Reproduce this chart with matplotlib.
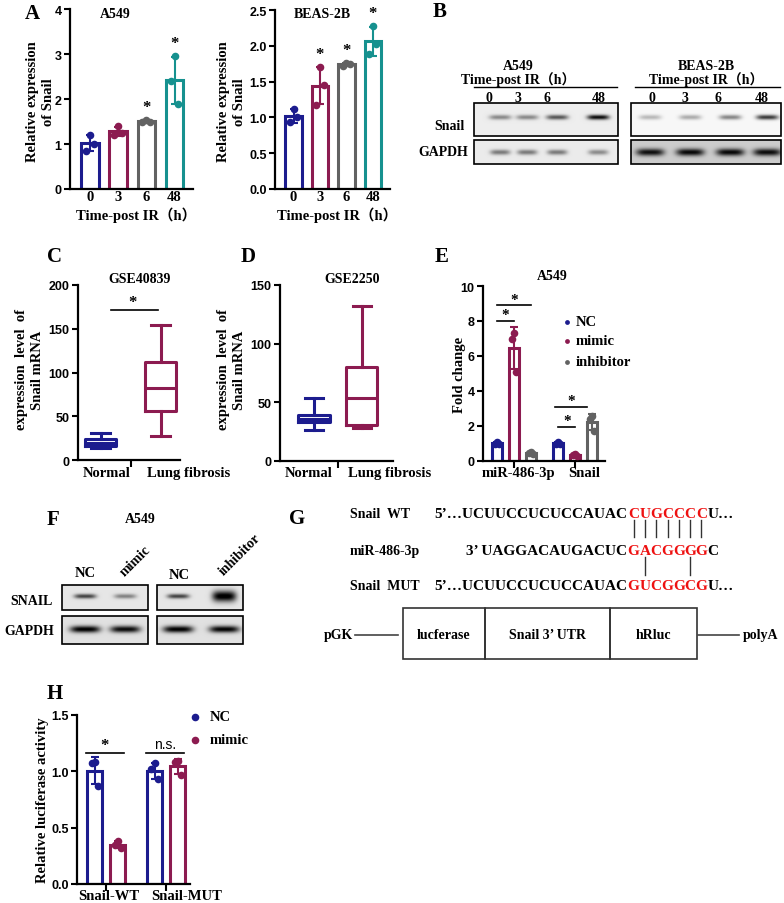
import numpy as np
import matplotlib
matplotlib.use('Agg')
import matplotlib.pyplot as plt
from matplotlib.patches import Rectangle

plt.rcParams['font.family'] = ['Liberation Serif', 'Noto Sans CJK SC']
plt.rcParams['font.weight'] = 'bold'

W, H = 784, 904
NAVY, MAROON, GREY, TEAL = '#1c1c8e', '#8c1b50', '#626262', '#16918f'
SANS = 'Liberation Sans'

# ---- A: Snail after IR
time_labels = ['0', '3', '6', '48']
a549_pts = [[1.20, 0.85, 1.00], [1.40, 1.20, 1.25], [1.53, 1.50, 1.48], [2.95, 2.40, 1.90]]
beas_pts = [[1.12, 0.93, 1.00], [1.70, 1.18, 1.45], [1.76, 1.72, 1.74], [2.28, 1.88, 2.03]]
a549_sig = [0, 0, 1, 1]
beas_sig = [0, 1, 1, 1]

# ---- B: blot band intensities (0 = none, 1 = black)
b_a549_snail = [0.40, 0.40, 0.60, 0.90]
b_a549_gapdh = [0.45, 0.45, 0.45, 0.38]
b_beas_snail = [0.25, 0.30, 0.45, 0.75]
b_beas_gapdh = [0.75, 0.78, 0.78, 0.76]

# ---- C / D: box stats (whislo, q1, med, q3, whishi)
box_groups = ['Normal', 'Lung fibrosis']
gse40839 = [(14, 16, 19.5, 24, 31), (27, 56, 82, 112, 154)]
gse2250 = [(26, 33, 36, 39, 54), (28, 31, 54, 80, 132)]

# ---- E: fold change
e_groups = ['miR-486-3p', 'Snail']
e_series = ['NC', 'mimic', 'inhibitor']
e_nc = [[1.08, 1.00, 0.95], [1.08, 1.00, 0.95]]
e_mimic = [[7.30, 7.00, 5.10], [0.42, 0.35, 0.30]]
e_inhib = [[0.52, 0.45, 0.38], [2.55, 2.40, 1.70]]

# ---- F: blots
f_snail = [[0.65, 0.40], [0.65, 0.95]]
f_gapdh = [[0.90, 0.85], [0.90, 0.88]]

# ---- G: sequences
seq_rows = [('Snail  WT', '5\u2019\u2026UCUUCCUCUCCAUAC', 'CUGCCCC', 'U\u2026'),
            ('miR-486-3p', '3\u2019 UAGGACAUGACUC', 'GACGGGG', 'C'),
            ('Snail  MUT', '5\u2019\u2026UCUUCCUCUCCAUAC', 'GUCGGCG', 'U\u2026')]
pair_wt = [1, 1, 1, 1, 1, 1, 1]
pair_mut = [0, 1, 0, 0, 0, 1, 0]
construct = ['lucferase', 'Snail 3\u2019 UTR', 'hRluc']

# ---- H: luciferase
h_groups = ['Snail-WT', 'Snail-MUT']
h_nc = [[1.08, 1.07, 0.87], [1.07, 1.02, 0.93]]
h_mimic = [[0.38, 0.35, 0.32], [1.09, 1.08, 0.97]]

fig = plt.figure(figsize=(W / 100, H / 100), dpi=100)
ov = fig.add_axes([0, 0, 1, 1])
ov.axis('off')


def T(x, y, s, size=10, **kw):
    kw.setdefault('ha', 'center')
    kw.setdefault('va', 'center')
    ov.text(x, y, s, fontsize=size, **kw)


def px_axes(l, t, r, b):
    ax = fig.add_axes([l / W, 1 - b / H, (r - l) / W, (b - t) / H])
    ax.patch.set_alpha(0)
    for s in ('top', 'right'):
        ax.spines[s].set_visible(False)
    for s in ('left', 'bottom'):
        ax.spines[s].set_linewidth(1.6)
    ax.tick_params(width=1.5, length=4, labelsize=9, pad=2)
    return ax


def yticks(ax, ticks, fmt):
    ax.set_ylim(ticks[0], ticks[-1])
    ax.set_yticks(ticks)
    ax.set_yticklabels([fmt.format(t) for t in ticks], family=SANS, weight='bold', fontsize=9)


def bars(ax, pos, pts, colors, width, offs=(0, -0.22, 0.22)):
    tops = []
    for x, p, c in zip(pos, pts, colors):
        m, sd = np.mean(p), np.std(p, ddof=1)
        ax.bar(x, m, width, facecolor='none', edgecolor=c, lw=2.2, zorder=2)
        ax.errorbar(x, m, yerr=sd, fmt='none', ecolor=c, elinewidth=1.5,
                    capsize=3, capthick=1.5, zorder=3)
        ax.scatter(x + np.array(offs) * width, p, s=30, color=c, zorder=4, linewidths=0)
        tops.append(m + sd)
    return tops


def blot(x0, y0, x1, y1, lanes, inten, bg, hw=10, hh=2.6, yc=None, hws=None, hhs=None):
    xs = np.arange(x0, x1, 0.5)
    ys = np.arange(y0, y1, 0.5)
    X, Y = np.meshgrid(xs, ys)
    img = np.full(X.shape, bg, dtype=float)
    yc = (y0 + y1) / 2 if yc is None else yc
    for i, (lx, I) in enumerate(zip(lanes, inten)):
        w = hws[i] if hws else hw
        h = hhs[i] if hhs else hh
        img -= I * np.exp(-np.abs((X - lx) / w) ** 4) * np.exp(-((Y - yc) / h) ** 2)
    ov.imshow(np.clip(img, 0, 1), extent=(x0, x1, y1, y0), cmap='gray', vmin=0, vmax=1,
              aspect='auto', interpolation='bilinear', zorder=1)
    ov.add_patch(Rectangle((x0, y0), x1 - x0, y1 - y0, fill=False, ec='black', lw=1.2, zorder=2))


# ================= A =================
for name, pts, sig, box, ymax, step, fmt, tx, lx in [
        ('A549', a549_pts, a549_sig, (70, 10, 193, 190), 4, 1, '{:.0f}', 115, 41),
        ('BEAS-2B', beas_pts, beas_sig, (275, 11, 390, 190), 2.5, 0.5, '{:.1f}', 322, 232)]:
    ax = px_axes(*box)
    pos = np.arange(len(time_labels))
    tops = bars(ax, pos, pts, [NAVY, MAROON, GREY, TEAL], 0.62)
    for x, t, s in zip(pos, tops, sig):
        if s:
            ax.text(x, t + 0.075 * ymax, '*', ha='center', va='center', fontsize=12)
    yticks(ax, np.arange(0, ymax + step / 2, step), fmt)
    ax.set_xlim(-0.7, 3.65)
    ax.set_xticks(pos)
    ax.set_xticklabels(time_labels, fontsize=10.5, weight='bold')
    ax.tick_params(axis='x', length=0, pad=1)
    T(tx, 15, name, 10)
    T(lx, 102, 'Relative expression\nof Snail', 10.5, rotation=90, linespacing=1.3)
    T((box[0] + box[2]) / 2 + 5, 215, 'Time-post IR\uff08h\uff09', 10.5)
T(32, 14, 'A', 15)
T(440, 12, 'B', 15)

# ================= B =================
for name, cx, x0, x1, nums, lanes, sn, gp, sbg, gbg, ghw in [
        ('A549', 518, 474, 618, [489, 518, 547, 599], [500, 527, 557, 598],
         b_a549_snail, b_a549_gapdh, 0.93, 0.92, 10),
        ('BEAS-2B', 706, 631, 781, [652, 685, 718, 762], [650, 690, 730, 767],
         b_beas_snail, b_beas_gapdh, 0.97, 0.80, 14)]:
    T(cx, 67, name, 10)
    T(cx, 80, 'Time-post IR\uff08h\uff09', 10)
    ov.plot([x0 + (4 if name != 'A549' else 0), x1 - 1], [88, 88], color='black', lw=1)
    for xn, lab in zip(nums, time_labels):
        T(xn, 98, lab, 10)
    blot(x0, 104, x1, 137, lanes, sn, sbg, hw=11, hh=2.4, yc=118)
    blot(x0, 141, x1, 165, lanes, gp, gbg, hw=ghw, hh=2.6 if name == 'A549' else 3.6, yc=153)
T(449, 126, 'Snail', 10)
T(443, 152, 'GAPDH', 10)

# ================= C / D =================
for lab, stats, box, ymax, step, width, xl, lx, tx, ttl, lp, lbl_x in [
        ('C', gse40839, (78, 286, 180, 461), 200, 50, 0.52, (-0.38, 1.32), 30, 140, 'GSE40839', 55, [83, 147]),
        ('D', gse2250, (280, 286, 393, 462), 150, 50, 0.65, (-0.71, 1.65), 232, 352, 'GSE2250', 248, [285, 348])]:
    ax = px_axes(*box)
    for i, (st, c) in enumerate(zip(stats, [NAVY, MAROON])):
        d = dict(zip(['whislo', 'q1', 'med', 'q3', 'whishi'], st))
        d['fliers'] = []
        pr = dict(color=c, lw=2.2)
        ax.bxp([d], positions=[i], widths=width, capwidths=width * 0.6, showfliers=False,
               boxprops=pr, whiskerprops=pr, capprops=pr, medianprops=pr)
    yticks(ax, np.arange(0, ymax + 1, step), '{:.0f}')
    ax.set_xlim(*xl)
    ax.set_xticks([0.5])
    ax.set_xticklabels([''])
    ax.tick_params(axis='x', length=5)
    if lab == 'C':
        ax.plot([0.17, 0.95], [171, 171], color='black', lw=1.2)
        ax.text(0.53, 180, '*', ha='center', va='center', fontsize=12)
    for x, g in zip(lbl_x, box_groups):
        T(x, 474, g, 10.5, ha='left')
    T(lp, 257, lab, 15)
    T(tx, 280, ttl, 10)
    T(lx, 370, 'expression  level  of\nSnail mRNA', 10.5, rotation=90, linespacing=1.3)

# ================= E =================
ax = px_axes(483, 287, 605, 462)
e_cols = [NAVY, MAROON, GREY]
gpos = np.arange(len(e_groups)) * 3.6
for k, (pts, c) in enumerate(zip([e_nc, e_mimic, e_inhib], e_cols)):
    bars(ax, gpos + k, pts, [c, c], 0.6, offs=(0, -0.2, 0.2))
yticks(ax, np.arange(0, 11, 2), '{:.0f}')
ax.set_xlim(-0.82, 6.35)
ax.set_xticks(gpos + 1)
ax.set_xticklabels(['', ''])
ax.tick_params(axis='x', length=5)
for (x0, x1, y) in [(0, 1, 8.0), (0, 2, 8.9), (3.6, 4.6, 1.95), (3.4, 5.3, 3.1)]:
    ax.plot([x0, x1], [y, y], color='black', lw=1.2)
    ax.text((x0 + x1) / 2, y + 0.35, '*', ha='center', va='center', fontsize=11)
T(518, 474, e_groups[0], 10.5)
T(584, 474, e_groups[1], 10.5)
T(442, 257, 'E', 15)
T(552, 277, 'A549', 10)
T(460, 375, 'Fold change', 10.5, rotation=90)
for y, s, c in zip([323, 342, 363], e_series, e_cols):
    ov.scatter([567], [y], s=12, color=c, linewidths=0)
    T(576, y, s, 10.5, ha='left')

# ================= F =================
T(53, 520, 'F', 15)
T(140, 520, 'A549', 10)
T(85, 574, 'NC', 10.5)
T(135, 561, 'mimic', 10, rotation=45)
T(179, 576, 'NC', 10.5)
T(240, 555, 'inhibitor', 10, rotation=45)
T(32, 602, 'SNAIL', 10)
T(29, 632, 'GAPDH', 10)
for (x0, x1, lanes), sn, gp in zip([(62, 148, [85, 125]), (157, 243, [178, 224])], f_snail, f_gapdh):
    big = sn[1] > 0.9
    blot(x0, 586, x1, 611, lanes, sn, 0.90, hw=11, hh=2.3, yc=597,
         hhs=[2.3, 5.5] if big else None, hws=[11, 12] if big else None)
    blot(x0, 617, x1, 645, lanes, gp, 0.88, hw=15, hh=3.4, yc=630)

# ================= G =================
T(297, 519, 'G', 15)
rows_y = [515, 552, 587]
red0, step = 628, 11.3
for (lab, pre, red, suf), y in zip(seq_rows, rows_y):
    T(350, y, lab, 10, ha='left')
    T(red0 - 0.5, y, pre, 11, ha='right')
    for k, ch in enumerate(red):
        T(red0 + step * (k + 0.5), y, ch, 11, color='#ee1111')
    T(red0 + step * len(red) + 0.5, y, suf, 11, ha='left')
for pairs, (ya, yb) in [(pair_wt, (521, 538)), (pair_mut, (558, 576))]:
    for k, p in enumerate(pairs):
        if p:
            xk = red0 + step * (k + 0.5)
            ov.plot([xk, xk], [ya, yb], color='#333333', lw=1)
bx = [403, 485, 610, 697]
for (a, b), name in zip(zip(bx[:-1], bx[1:]), construct):
    ov.add_patch(Rectangle((a, 609), b - a, 51, fill=False, ec='#333333', lw=1.2))
    T((a + b) / 2, 636, name, 10)
ov.plot([355, 398], [636, 636], color='#444444', lw=1.2)
ov.plot([698, 739], [636, 636], color='#444444', lw=1.2)
T(353, 636, 'pGK', 10, ha='right')
T(743, 636, 'polyA', 10, ha='left')

# ================= H =================
ax = px_axes(77, 716, 190, 885)
hpos = np.array([0, 2.6])
bars(ax, hpos, h_nc, [NAVY, NAVY], 0.65)
bars(ax, hpos + 1, h_mimic, [MAROON, MAROON], 0.65)
yticks(ax, np.array([0, 0.5, 1.0, 1.5]), '{:.1f}')
ax.set_xlim(-0.78, 4.13)
ax.set_xticks(hpos + 0.5)
ax.set_xticklabels(['', ''])
ax.tick_params(axis='x', length=5)
ax.plot([-0.39, 1.26], [1.16, 1.16], color='black', lw=1.2)
ax.text(0.43, 1.23, '*', ha='center', va='center', fontsize=12)
ax.plot([2.22, 3.87], [1.16, 1.16], color='black', lw=1.2)
ax.text(3.05, 1.18, 'n.s.', ha='center', va='bottom', fontsize=10, family=SANS, weight='normal')
T(109, 897, h_groups[0], 10.5)
T(187, 897, h_groups[1], 10.5)
T(55, 694, 'H', 15)
T(43, 800, 'Relative luciferase activity', 10.5, rotation=90)
for y, s, c in zip([718, 741], ['NC', 'mimic'], [NAVY, MAROON]):
    ov.scatter([195], [y], s=30, color=c, linewidths=0)
    T(210, y, s, 10.5, ha='left')

ov.set_xlim(0, W)
ov.set_ylim(H, 0)
fig.savefig('out.png', dpi=100)
